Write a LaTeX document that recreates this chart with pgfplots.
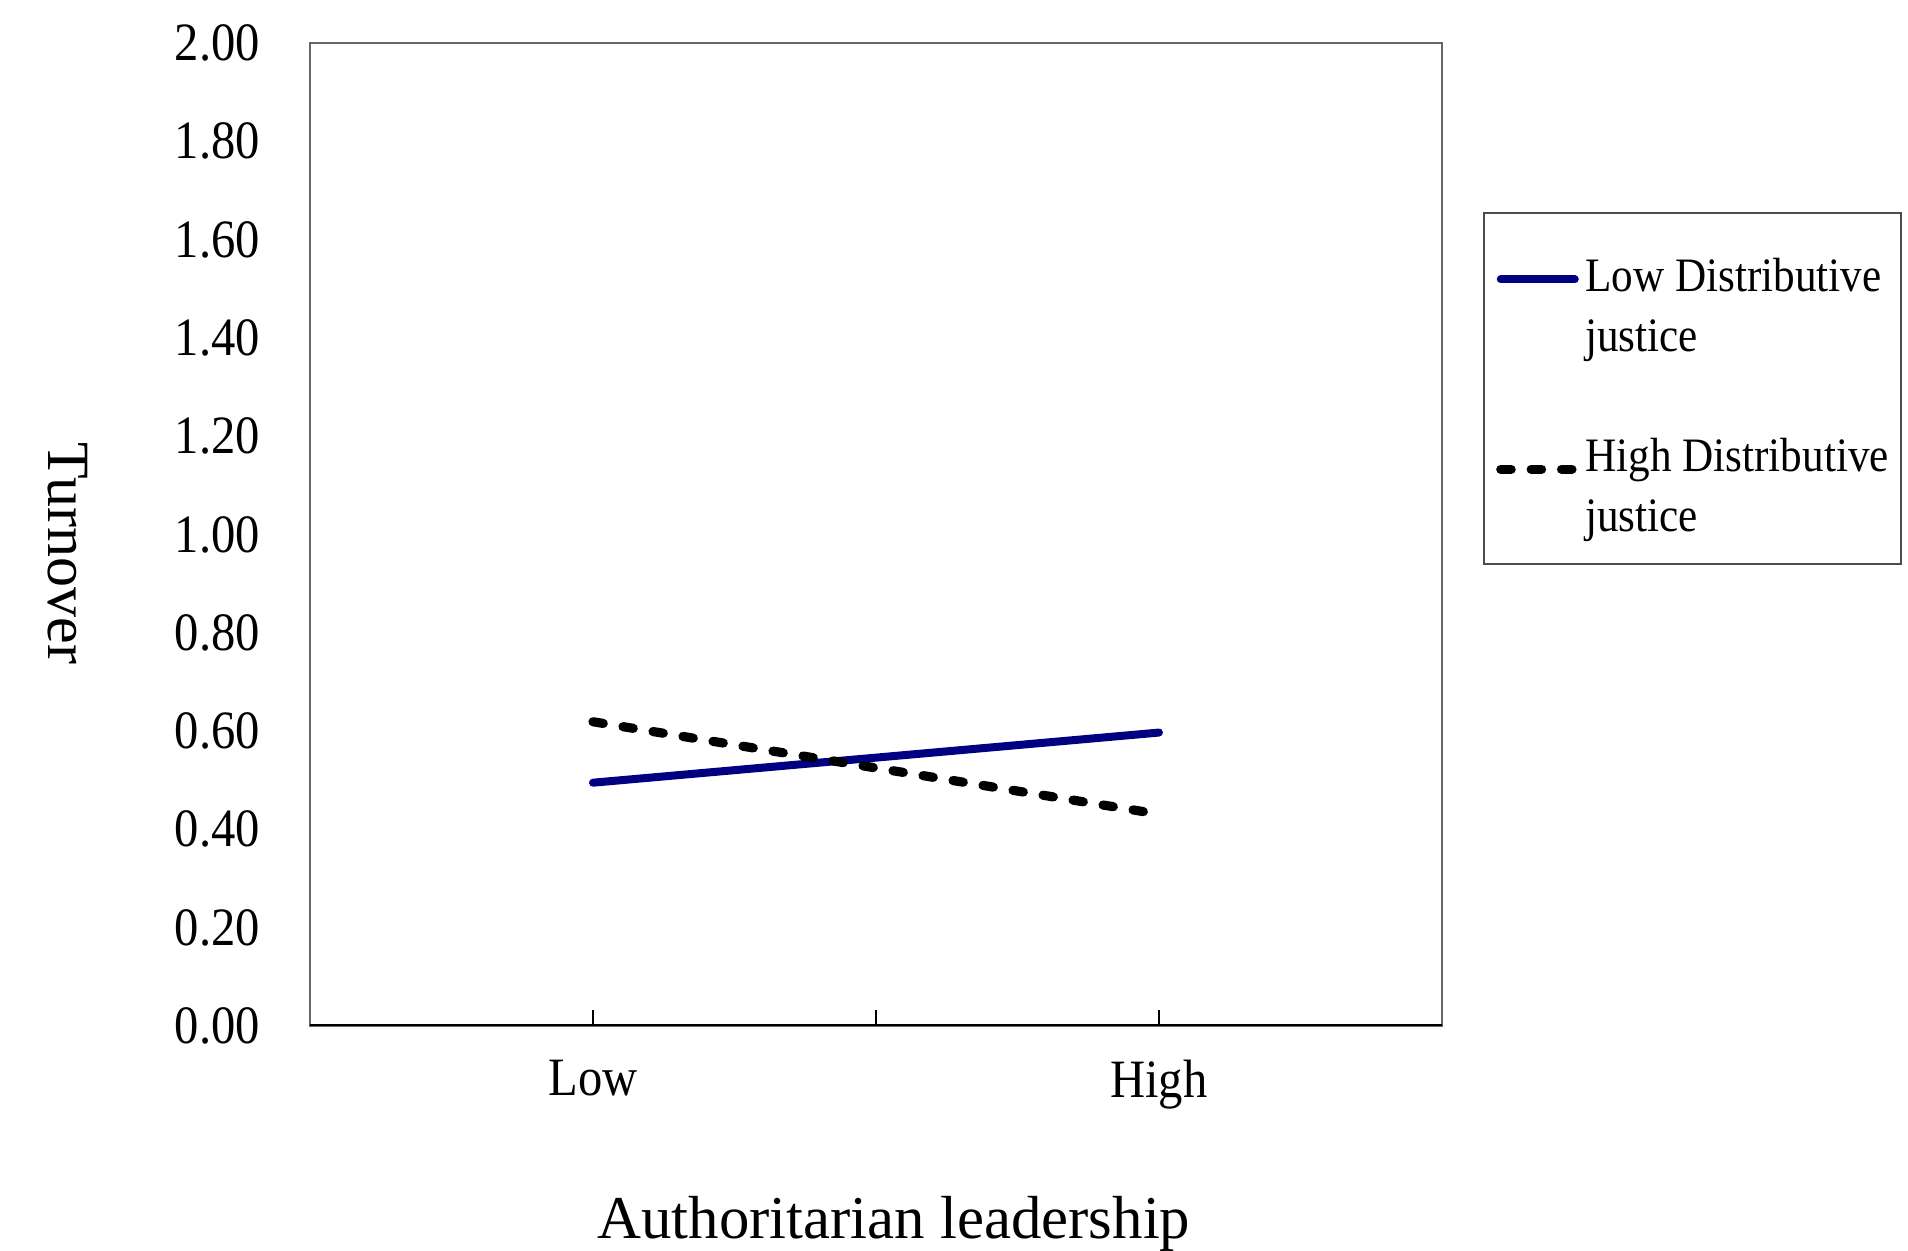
\documentclass[border=0pt]{standalone}
\usepackage{fontspec}
\setmainfont{Liberation Serif}
\newfontfamily\condfont{Liberation Serif}[FakeStretch=0.9]
\usepackage{pgfplots}
\pgfplotsset{compat=1.18}
\definecolor{navyline}{RGB}{0,0,128}
\begin{document}
\begin{tikzpicture}
\begin{axis}[
  at={(0pt,0pt)}, anchor=south west,
  scale only axis, width=283pt, height=245.75pt,
  xmin=0, xmax=4, ymin=0, ymax=2,
  xtick={1,2,3}, xticklabels={Low,,High},
  ytick={0,0.2,0.4,0.6,0.8,1.0,1.2,1.4,1.6,1.8,2.0},
  /pgf/number format/assume math mode=true,
  yticklabel style={/pgf/number format/.cd, fixed, fixed zerofill, precision=2, /tikz/.cd, xshift=-9pt},
  xticklabel style={yshift=-5pt},
  ticklabel style={font=\fontsize{13.5}{16}\condfont},
  tick align=inside, xtick pos=bottom, ytick pos=left,
  ytick style={draw=none}, major tick length=4pt,
  xtick style={black, line width=0.6pt},
  axis line style={draw=black!60, line width=0.6pt},
  xlabel={Authoritarian leadership}, ylabel={Turnover},
  every axis x label/.style={at={(axis description cs:0.5159,-0.2157)}, anchor=base, font=\fontsize{15.2}{18}\selectfont},
  every axis y label/.style={at={(axis description cs:-0.2138,0.4807)}, anchor=center, rotate=-90, font=\fontsize{15}{18}\selectfont},
  legend style={at={(1.0362,0.8281)}, anchor=north west, draw=black!70, line width=0.6pt,
    font=\fontsize{12}{15}\condfont, inner xsep=3pt, inner ysep=6.5pt,
    nodes={inner sep=0pt}, cells={align=left}, row sep=20.2pt, column sep=1.5pt},
  legend cell align=left,
  legend image code/.code={\draw[#1] (1pt,4.75pt) -- (19.5pt,4.75pt);},
]
\addplot[navyline, line width=2pt, line cap=round] coordinates {(1,0.495) (3,0.597)};
\addlegendentry{\rule{0pt}{13.15pt}Low Distributive\\justice}
\addplot[black, line width=2.3pt, line cap=round, dash pattern=on 2.6pt off 5pt] coordinates {(1,0.619) (3,0.431)};
\addlegendentry{High Distributive\\justice}
\draw[black, line width=1pt] (rel axis cs:0,0) -- (rel axis cs:1,0);
\end{axis}
\pgfresetboundingbox
\useasboundingbox (-77.5pt,-56.25pt) rectangle (399.5pt,256.5pt);
\end{tikzpicture}
\end{document}
